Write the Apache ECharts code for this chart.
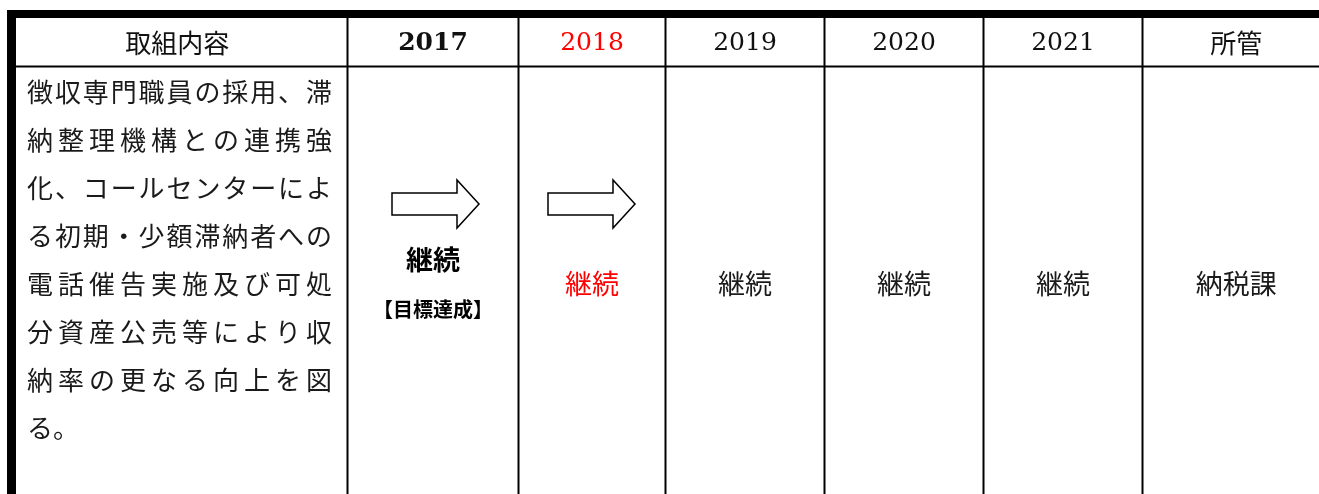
<!DOCTYPE html>
<html><head><meta charset="utf-8">
<script src="https://cdn.jsdelivr.net/npm/echarts@6/dist/echarts.min.js"></script>
<style>html,body{margin:0;padding:0;background:#fff}#c{width:1319px;height:494px}</style>
</head><body><div id="c"></div>
<script>
// ---- data ----
const headers = ['取組内容', '2017', '2018', '2019', '2020', '2021', '所管'];
const descLines = [
  '徴収専門職員の採用、滞',
  '納整理機構との連携強',
  '化、コールセンターによ',
  'る初期・少額滞納者への',
  '電話催告実施及び可処',
  '分資産公売等により収',
  '納率の更なる向上を図',
  'る。'
];
const statusText = [null, '継続', '継続', '継続', '継続', '継続', '納税課'];
const note2017 = '【目標達成】';
const arrowColumns = [1, 2];
const redColumn = 2;     // 2018 highlighted
const boldColumn = 1;    // 2017 bold

// ---- layout (not data) ----
const colEdges = [16, 347.5, 518.5, 665.5, 824.5, 983.5, 1142.5, 1330];
const arrowShift = {1: -41, 2: -44};
const headerTop = 18, headerBottom = 66.5;
const CJK = '"Noto Sans CJK JP", sans-serif';
const SERIF = '"DejaVu Serif", serif';

const chart = echarts.init(document.getElementById('c'), null, {renderer: 'canvas'});

function renderItem(params, api) {
  const i = api.value(0);
  const P = (x, y) => api.coord([x, y]);
  const children = [];
  const x0 = colEdges[i], x1 = colEdges[i + 1];
  const cx = i === 0 ? (7 + x1) / 2 : (x0 + x1) / 2;

  if (i === 0) {
    const a = P(7, 10), b = P(1319, 18);
    children.push({type: 'rect', shape: {x: a[0], y: a[1], width: b[0] - a[0], height: b[1] - a[1]}, style: {fill: '#000'}});
    const c = P(7, 10), d = P(16, 494);
    children.push({type: 'rect', shape: {x: c[0], y: c[1], width: d[0] - c[0], height: d[1] - c[1]}, style: {fill: '#000'}});
    const e = P(16, headerBottom), f = P(1319, headerBottom);
    children.push({type: 'line', shape: {x1: e[0], y1: e[1], x2: f[0], y2: f[1]}, style: {stroke: '#000', lineWidth: 2}});
  } else {
    const e = P(x0, headerTop), f = P(x0, 494);
    children.push({type: 'line', shape: {x1: e[0], y1: e[1], x2: f[0], y2: f[1]}, style: {stroke: '#000', lineWidth: 2}});
  }

  // header text
  const h = headers[i];
  const isYear = /^\d+$/.test(h);
  const hp = P(cx, 43);
  children.push({type: 'text', x: hp[0], y: hp[1], style: {
    text: h, align: 'center', verticalAlign: 'middle',
    font: (i === boldColumn ? 'bold ' : '') + (isYear ? '25px ' + SERIF : '26px ' + CJK),
    fill: i === redColumn ? '#ff0000' : '#111'
  }});

  if (i === 0) {
    descLines.forEach((line, k) => {
      const chars = Array.from(line);
      const y = 92 + 48 * k;
      const last = k === descLines.length - 1;
      chars.forEach((ch, j) => {
        const x = last ? 40 + 26 * j : 40 + j * (319 - 40) / (chars.length - 1);
        const p = P(x, y);
        children.push({type: 'text', x: p[0], y: p[1], style: {
          text: ch, align: 'center', verticalAlign: 'middle', font: '26px ' + CJK, fill: '#1a1a1a'
        }});
      });
    });
  } else {
    if (arrowColumns.indexOf(i) >= 0) {
      const L = (x0 + x1) / 2 + arrowShift[i];
      const pts = [[L, 193], [L + 65, 193], [L + 65, 180], [L + 87, 204], [L + 65, 228], [L + 65, 215], [L, 215]]
        .map(q => P(q[0], q[1]));
      children.push({type: 'polygon', shape: {points: pts}, style: {fill: '#fff', stroke: '#000', lineWidth: 1.5}});
    }
    if (i === boldColumn) {
      const p1 = P(cx, 260), p2 = P(cx, 309);
      children.push({type: 'text', x: p1[0], y: p1[1], style: {text: statusText[i], align: 'center', verticalAlign: 'middle', font: 'bold 27px ' + CJK, fill: '#000'}});
      children.push({type: 'text', x: p2[0], y: p2[1], style: {text: note2017, align: 'center', verticalAlign: 'middle', font: 'bold 20px ' + CJK, fill: '#000'}});
    } else {
      const p = P(cx, 284);
      children.push({type: 'text', x: p[0], y: p[1], style: {
        text: statusText[i], align: 'center', verticalAlign: 'middle', font: '27px ' + CJK,
        fill: i === redColumn ? '#ff0000' : '#1a1a1a'
      }});
    }
  }
  return {type: 'group', children: children};
}

chart.setOption({
  animation: false,
  grid: {left: 0, right: 0, top: 0, bottom: 0},
  xAxis: {type: 'value', min: 0, max: 1319, show: false},
  yAxis: {type: 'value', min: 0, max: 494, inverse: true, show: false},
  series: [{
    type: 'custom', clip: false, silent: true,
    renderItem: renderItem,
    data: headers.map((h, i) => [i])
  }]
});
</script></body></html>
